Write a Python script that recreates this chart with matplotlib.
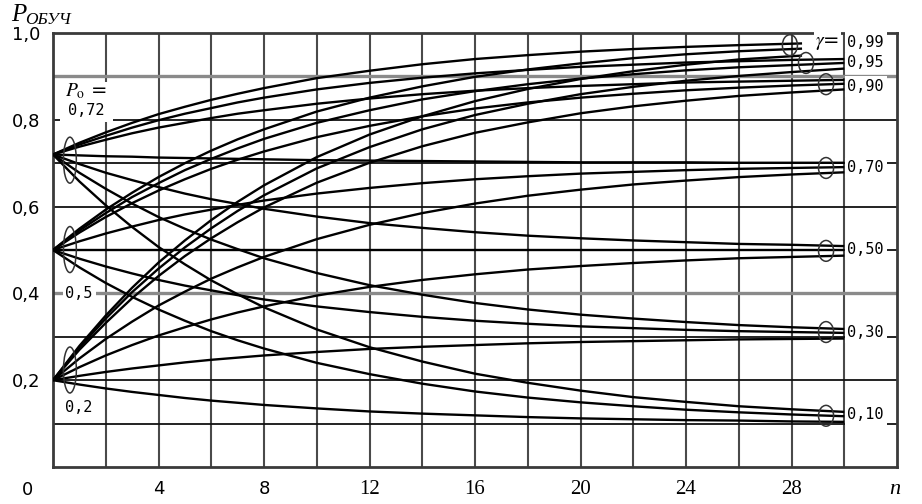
import matplotlib
matplotlib.use("Agg")
import matplotlib.pyplot as plt
from matplotlib.patches import Ellipse, Rectangle
import numpy as np

plt.rcParams['mathtext.fontset'] = 'stix'

# ---------------- data ----------------
n_steps = [0, 1, 2, 3, 4, 5, 6, 7, 8, 10, 12, 14, 16, 18, 20, 22, 24, 26, 28, 30]
n_steps_099 = [0, 1, 2, 3, 4, 5, 6, 7, 8, 10, 12, 14, 16, 18, 20, 22, 24, 26, 28.4]

gammas = [0.99, 0.95, 0.90, 0.70, 0.50, 0.30, 0.10]
gamma_labels = ['0,99', '0,95', '0,90', '0,70', '0,50', '0,30', '0,10']
start_values = [0.72, 0.5, 0.2]
start_labels = ['0,72', '0,5', '0,2']

# curves starting at P0 = 0.72 (towards gamma = 0.99, 0.95, 0.90, 0.70, 0.50, 0.30, 0.10)
curves_p072 = [
    [0.72, 0.747, 0.771, 0.793, 0.813, 0.830, 0.846, 0.860, 0.873, 0.896, 0.913, 0.928, 0.940, 0.949, 0.957, 0.963, 0.968, 0.972, 0.976],
    [0.72, 0.743, 0.763, 0.782, 0.799, 0.814, 0.827, 0.840, 0.851, 0.870, 0.885, 0.897, 0.907, 0.915, 0.922, 0.927, 0.932, 0.935, 0.938, 0.940],
    [0.72, 0.738, 0.754, 0.769, 0.782, 0.793, 0.804, 0.814, 0.822, 0.837, 0.849, 0.859, 0.867, 0.873, 0.878, 0.882, 0.886, 0.888, 0.890, 0.892],
    [0.72, 0.718, 0.716, 0.715, 0.713, 0.712, 0.711, 0.710, 0.709, 0.707, 0.706, 0.705, 0.704, 0.703, 0.702, 0.702, 0.702, 0.701, 0.701, 0.701],
    [0.72, 0.698, 0.678, 0.661, 0.645, 0.630, 0.617, 0.606, 0.595, 0.577, 0.562, 0.551, 0.541, 0.533, 0.527, 0.522, 0.518, 0.514, 0.512, 0.509],
    [0.72, 0.678, 0.641, 0.607, 0.576, 0.549, 0.524, 0.502, 0.481, 0.447, 0.419, 0.397, 0.378, 0.363, 0.351, 0.342, 0.334, 0.327, 0.322, 0.318],
    [0.72, 0.658, 0.603, 0.553, 0.507, 0.467, 0.430, 0.398, 0.368, 0.317, 0.276, 0.243, 0.215, 0.194, 0.176, 0.161, 0.150, 0.140, 0.133, 0.127],
]

# curves starting at P0 = 0.5
curves_p050 = [
    [0.50, 0.549, 0.593, 0.632, 0.668, 0.700, 0.729, 0.755, 0.778, 0.819, 0.851, 0.877, 0.899, 0.916, 0.930, 0.942, 0.951, 0.958, 0.964],
    [0.50, 0.545, 0.585, 0.622, 0.654, 0.684, 0.710, 0.734, 0.756, 0.793, 0.822, 0.847, 0.866, 0.882, 0.895, 0.905, 0.914, 0.921, 0.926, 0.931],
    [0.50, 0.540, 0.576, 0.608, 0.637, 0.663, 0.687, 0.708, 0.727, 0.760, 0.786, 0.808, 0.826, 0.840, 0.851, 0.860, 0.868, 0.874, 0.879, 0.883],
    [0.50, 0.520, 0.538, 0.554, 0.569, 0.582, 0.593, 0.604, 0.614, 0.630, 0.643, 0.654, 0.663, 0.670, 0.676, 0.680, 0.684, 0.687, 0.689, 0.691],
    [0.50, 0.500, 0.500, 0.500, 0.500, 0.500, 0.500, 0.500, 0.500, 0.500, 0.500, 0.500, 0.500, 0.500, 0.500, 0.500, 0.500, 0.500, 0.500, 0.500],
    [0.50, 0.480, 0.462, 0.446, 0.431, 0.418, 0.407, 0.396, 0.386, 0.370, 0.357, 0.346, 0.337, 0.330, 0.324, 0.320, 0.316, 0.313, 0.311, 0.309],
    [0.50, 0.460, 0.424, 0.392, 0.363, 0.337, 0.313, 0.292, 0.273, 0.240, 0.214, 0.192, 0.174, 0.160, 0.149, 0.140, 0.132, 0.126, 0.121, 0.117],
]

# curves starting at P0 = 0.2
curves_p020 = [
    [0.20, 0.279, 0.349, 0.413, 0.471, 0.522, 0.569, 0.611, 0.649, 0.714, 0.766, 0.808, 0.843, 0.871, 0.894, 0.912, 0.927, 0.939, 0.948],
    [0.20, 0.275, 0.342, 0.403, 0.457, 0.506, 0.550, 0.590, 0.626, 0.688, 0.737, 0.778, 0.811, 0.837, 0.859, 0.876, 0.890, 0.901, 0.910, 0.918],
    [0.20, 0.270, 0.332, 0.389, 0.440, 0.486, 0.527, 0.564, 0.598, 0.655, 0.701, 0.739, 0.770, 0.794, 0.815, 0.831, 0.844, 0.855, 0.863, 0.870],
    [0.20, 0.250, 0.295, 0.335, 0.372, 0.404, 0.434, 0.460, 0.484, 0.525, 0.558, 0.585, 0.607, 0.625, 0.639, 0.651, 0.660, 0.668, 0.674, 0.679],
    [0.20, 0.230, 0.257, 0.281, 0.303, 0.322, 0.340, 0.356, 0.370, 0.395, 0.415, 0.431, 0.444, 0.455, 0.463, 0.470, 0.476, 0.481, 0.484, 0.487],
    [0.20, 0.210, 0.219, 0.227, 0.234, 0.241, 0.247, 0.252, 0.257, 0.265, 0.272, 0.277, 0.281, 0.285, 0.288, 0.290, 0.292, 0.294, 0.295, 0.296],
    [0.20, 0.190, 0.181, 0.173, 0.166, 0.159, 0.153, 0.148, 0.143, 0.135, 0.128, 0.123, 0.119, 0.115, 0.112, 0.110, 0.108, 0.107, 0.105, 0.104],
]

x_ticks = [4, 8, 12, 16, 20, 24, 28]
x_tick_labels = ['4', '8', '12', '16', '20', '24', '28']
y_ticks = [0.2, 0.4, 0.6, 0.8, 1.0]
y_tick_labels = ['0,2', '0,4', '0,6', '0,8', '1,0']

# ---------------- figure ----------------
W, H = 922, 504
fig = plt.figure(figsize=(W / 100, H / 100), dpi=100)
ax = fig.add_axes([53 / W, 37 / H, 844 / W, 434 / H])
ax.set_xlim(0, 32)
ax.set_ylim(0, 1)

# grid
for xv in np.arange(2, 32, 2):
    ax.axvline(xv, color='#4a4a4a', lw=1.5, zorder=1)
for yv in np.arange(0.1, 1.0, 0.1):
    yr = round(yv, 1)
    if yr in (0.4, 0.9):
        ax.axhline(yr, color='#8a8a8a', lw=2.4, zorder=1)
    else:
        ax.axhline(yr, color='#111111', lw=1.3, zorder=1)

for sp in ax.spines.values():
    sp.set_color('#3a3a3a')
    sp.set_linewidth(2)

# curves
for group in (curves_p072, curves_p050, curves_p020):
    for g, ys in zip(gammas, group):
        xs = n_steps_099 if g == 0.99 else n_steps
        ax.plot(xs, ys, color='black', lw=1.7, zorder=3,
                solid_capstyle='butt', solid_joinstyle='round')

# ellipses at the start
for cy in (0.707, 0.501, 0.2235):
    ax.add_patch(Ellipse((0.64, cy), 0.49, 0.106, fill=False, ec='#333333', lw=1.1, zorder=4))
# ellipses at the ends
end_centres = [(27.94, 0.972), (28.55, 0.931), (29.31, 0.882), (29.31, 0.689),
               (29.31, 0.498), (29.31, 0.311), (29.31, 0.118)]
for (cx, cy) in end_centres:
    ax.add_patch(Ellipse((cx, cy), 0.57, 0.048, fill=False, ec='#333333', lw=1.1, zorder=4))

# gamma labels
box = dict(fc='white', ec='none', pad=2)
label_y = [0.979, 0.931, 0.877, 0.689, 0.500, 0.309, 0.120]
ax.text(28.9, label_y[0], r'$\gamma$=', fontsize=14, ha='left', va='center',
        bbox=dict(fc='white', ec='none', pad=1), zorder=5)
for lab, yv in zip(gamma_labels, label_y):
    ax.text(30.12, yv, lab, family='DejaVu Sans Mono', fontsize=11,
            ha='left', va='center', bbox=box, zorder=5)

# start labels
ax.add_patch(Rectangle((0.27, 0.795), 2.0, 0.093, fc='white', ec='none', zorder=2))
ax.text(0.45, 0.865, r'$P_{\mathrm{o}}$ =', fontsize=14, ha='left', va='center', zorder=5)
ax.text(0.55, 0.822, start_labels[0], family='DejaVu Sans Mono', fontsize=11,
        ha='left', va='center', zorder=5)
ax.text(0.99, 0.400, start_labels[1], family='DejaVu Sans Mono', fontsize=11,
        ha='center', va='center', bbox=dict(fc='white', ec='none', pad=2), zorder=5)
ax.text(0.99, 0.136, start_labels[2], family='DejaVu Sans Mono', fontsize=11,
        ha='center', va='center', zorder=5)

# ticks
ax.set_xticks(x_ticks)
ax.set_xticklabels(x_tick_labels)
ax.set_yticks(y_ticks)
ax.set_yticklabels(y_tick_labels)
ax.tick_params(length=0)
ax.tick_params(axis='x', pad=9)
ax.tick_params(axis='y', pad=9)
for t in ax.get_yticklabels():
    t.set_fontfamily('DejaVu Sans')
    t.set_fontsize(13)
for t in ax.get_xticklabels():
    if t.get_text() in ('4', '8'):
        t.set_fontfamily('DejaVu Sans')
        t.set_fontsize(13)
    else:
        t.set_fontfamily('Liberation Serif')
        t.set_fontsize(15)

# corner zero, axis names
fig.text(27 / W, 1 - 490 / H, '0', family='DejaVu Sans', fontsize=13, ha='center', va='center')
fig.text(895 / W, 1 - 489 / H, 'n', family='Liberation Serif', style='italic', fontsize=16,
         ha='center', va='center')
fig.text(11 / W, 1 - 21 / H, 'P', family='Liberation Serif', style='italic', fontsize=18,
         ha='left', va='baseline')
fig.text(25 / W, 1 - 24 / H, 'ОБУЧ', family='Liberation Serif', style='italic', fontsize=12.5,
         ha='left', va='baseline')

fig.savefig('out.png', dpi=100, facecolor='white')
